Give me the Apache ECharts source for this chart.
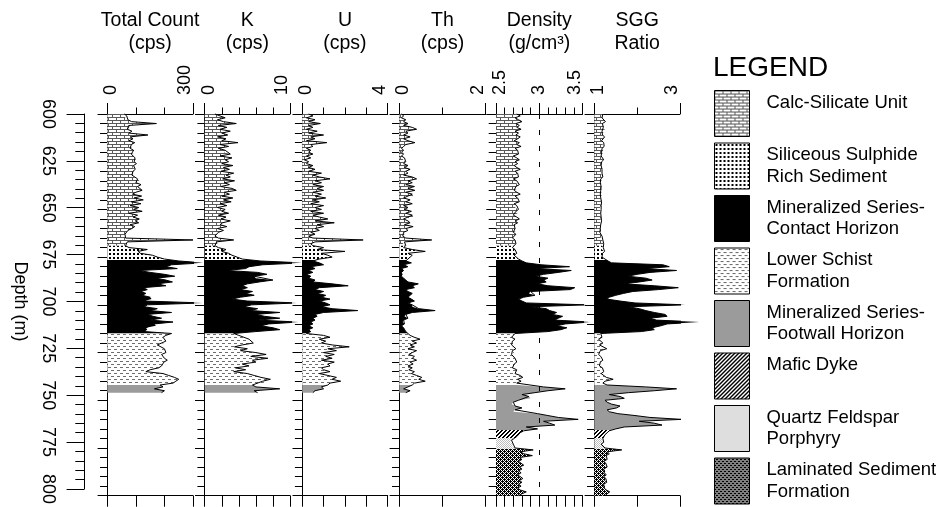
<!DOCTYPE html>
<html><head><meta charset="utf-8">
<script src="https://cdn.jsdelivr.net/npm/echarts@6/dist/echarts.min.js"></script>
<style>html,body{margin:0;padding:0;background:#fff}#c{width:944px;height:507px}</style>
</head><body><div id="c"></div>
<script>
// ---------------- DATA ----------------
const depthA = [
600,601,602,603,604,605,606,607,608,609,610,611,612,613,614,615,616,617,618,619,
620,621,622,623,624,625,626,627,628,629,630,631,632,633,634,635,636,637,638,639,
640,641,642,643,644,645,646,647,648,649,650,651,652,653,654,655,656,657,658,659,
660,661,662,663,664,665,666,667,668,669,670,671,672,673,674,675,676,677,678,679,
680,681,682,683,684,685,686,687,688,689,690,691,692,693,694,695,696,697,698,699,
700,701,702,703,704,705,706,707,708,709,710,711,712,713,714,715,716,717,718,719,
720,721,722,723,724,725,726,727,728,729,730,731,732,733,734,735,736,737,738,739,
740,741,742,743,744,745,746];
const depthB = [
600,601,602,603,604,605,606,607,608,609,610,611,612,613,614,615,616,617,618,619,
620,621,622,623,624,625,626,627,628,629,630,631,632,633,634,635,636,637,638,639,
640,641,642,643,644,645,646,647,648,649,650,651,652,653,654,655,656,657,658,659,
660,661,662,663,664,665,666,667,668,669,670,671,672,673,674,675,676,677,678,679,
680,681,682,683,684,685,686,687,688,689,690,691,692,693,694,695,696,697,698,699,
700,701,702,703,704,705,706,707,708,709,710,711,712,713,714,715,716,717,718,719,
720,721,722,723,724,725,726,727,728,729,730,731,732,733,734,735,736,737,738,739,
740,741,742,743,744,745,746,747,748,749,750,751,752,753,754,755,756,757,758,759,
760,761,762,763,764,765,766,767,768,769,770,771,772,773,774,775,776,777,778,779,
780,781,782,783,784,785,786,787,788,789,790,791,792,793,794,795,796,797,798,799,
800];
const totalCount = [
60,68,62,72,85,172,75,80,70,86, 76,142,80,90,76,96,84,90,80,92,
98,84,90,97,100,94,102,92,88,98, 90,96,86,92,106,112,100,118,106,114,
122,100,88,120,94,126,84,118,80,110, 92,122,75,106,90,112,98,110,80,96,
86,72,66,62,60,64,300,70,66,64, 76,140,108,116,158,176,200,250,335,225,
205,245,112,150,200,236,170,205,228,175, 205,125,140,118,135,122,150,155,130,335,
140,130,175,150,225,140,160,190,150,230, 165,170,135,140,130,225,205,195,190,205,
200,175,172,200,195,205,190,195,200,210, 198,205,190,180,150,135,195,215,235,250,
240,230,185,195,165,200,190];
const kCps = [
1.2,1.8,2.4,1.5,2.2,3.7,1.6,2.6,1.8,3.0, 2.0,2.7,1.5,2.5,2.0,3.9,1.8,2.8,1.6,2.4,
2.2,3.0,1.8,3.2,2.4,2.8,2.0,3.3,2.2,2.9, 1.9,3.4,2.5,3.0,2.1,3.5,2.3,2.9,1.9,3.2,
3.7,2.3,2.9,2.0,3.3,2.2,3.1,1.8,2.6,1.5, 2.4,2.0,2.8,1.6,2.5,1.9,3.0,2.1,1.8,2.6,
1.5,2.2,1.6,1.4,1.2,1.6,3.4,1.4,1.5,1.2, 1.6,2.5,2.0,2.8,3.2,3.8,4.4,6.5,11.4,6.8,
5.2,4.8,2.6,6.2,7.3,5.8,6.0,8.0,6.4,5.0, 4.4,5.0,4.2,5.6,4.8,5.8,4.2,3.2,5.0,10.8,
5.5,4.6,6.2,5.4,8.8,6.0,7.0,8.8,6.2,11.0, 7.5,6.6,8.0,8.8,6.0,3.4,4.0,4.6,5.2,5.0,
5.7,4.4,3.5,5.0,4.2,6.0,7.2,5.4,7.4,5.6, 6.0,4.4,5.2,3.6,4.8,3.4,5.0,5.8,6.6,7.7,
6.8,7.0,5.6,6.0,8.8,5.8,6.2];
const uCps = [
0.3,0.5,0.2,0.6,0.3,0.85,0.3,0.5,0.2,0.7, 0.3,1.0,0.4,0.6,0.2,1.15,0.4,0.5,0.2,0.4,
0.3,0.5,0.2,0.4,0.1,0.3,0.2,0.5,0.3,0.6, 0.3,0.9,0.5,0.8,1.3,0.6,0.9,0.5,1.0,0.7,
1.0,0.5,0.9,0.6,1.1,0.5,0.8,0.4,1.0,0.6, 0.9,0.4,1.0,0.5,0.8,1.2,0.6,1.5,0.7,1.0,
0.6,0.8,0.4,0.6,0.3,0.5,2.85,0.6,0.4,0.5, 1.0,0.7,2.0,0.9,1.2,1.4,0.8,0.5,0.8,1.0,
0.4,0.6,0.3,0.5,0.2,0.4,0.3,0.6,0.5,1.4, 2.15,0.8,0.6,1.0,0.7,1.1,0.9,1.3,0.8,1.1,
1.3,0.9,1.4,2.6,1.0,0.6,0.7,0.5,0.6,0.4, 0.5,0.3,0.5,0.3,0.4,0.2,1.0,1.3,0.8,1.1,
0.9,1.4,2.2,1.2,1.6,1.0,1.5,1.1,1.4,0.9, 1.5,1.2,1.3,0.9,1.0,1.3,0.8,1.2,1.6,1.4,
1.8,1.3,1.2,0.9,1.0,0.6,0.5];
const thCps = [
0.05,0.1,0.05,0.15,0.1,0.2,0.1,0.3,0.4,0.15, 0.2,0.1,0.25,0.1,0.2,0.36,0.15,0.1,0.05,0.1,
0.05,0.1,0.05,0.12,0.08,0.15,0.1,0.2,0.12,0.25, 0.15,0.2,0.1,0.3,0.4,0.2,0.3,0.15,0.35,0.2,
0.36,0.15,0.3,0.32,0.1,0.25,0.15,0.3,0.1,0.2, 0.12,0.28,0.15,0.3,0.32,0.1,0.2,0.25,0.12,0.32,
0.15,0.2,0.1,0.12,0.08,0.15,0.75,0.12,0.08,0.15, 0.1,0.3,0.6,0.2,0.3,0.25,0.2,0.15,0.28,0.1,
0.2,0.05,0.1,0.05,0.08,0.05,0.1,0.15,0.2,0.44, 0.3,0.35,0.15,0.2,0.3,0.25,0.2,0.28,0.35,0.2,
0.3,0.3,0.45,0.83,0.3,0.15,0.12,0.2,0.1,0.08, 0.12,0.05,0.1,0.12,0.15,0.2,0.25,0.35,0.48,0.3,
0.4,0.25,0.35,0.2,0.4,0.3,0.22,0.35,0.3,0.4, 0.25,0.32,0.2,0.3,0.22,0.35,0.28,0.4,0.52,0.45,
0.6,0.35,0.3,0.2,0.1,0.25,0.15];
const density = [
2.74,2.78,2.72,2.76,2.80,2.73,2.77,2.74,2.79,2.72, 2.76,2.73,2.78,2.75,2.71,2.77,2.74,2.79,2.72,2.75,
2.73,2.76,2.70,2.74,2.77,2.72,2.75,2.71,2.74,2.78, 2.72,2.75,2.73,2.76,2.70,2.74,2.72,2.77,2.73,2.75,
2.71,2.74,2.78,2.72,2.75,2.73,2.77,2.71,2.74,2.72, 2.76,2.73,2.75,2.70,2.74,2.77,2.72,2.75,2.71,2.73,
2.72,2.74,2.70,2.73,2.71,2.69,2.72,2.70,2.73,2.71, 2.69,2.72,2.70,2.74,2.71,2.73,2.76,2.80,2.85,3.02,
3.35,2.95,3.37,3.22,3.05,2.95,3.10,3.05,3.08,2.98, 3.10,3.41,3.36,2.90,2.88,2.95,2.82,2.76,2.80,2.85,
3.55,2.90,3.08,3.12,3.20,3.15,3.27,3.22,3.18,3.59, 3.30,3.20,3.32,3.25,3.10,2.72,2.70,2.68,2.72,2.69,
2.71,2.68,2.70,2.73,2.69,2.71,2.68,2.70,2.72,2.70, 2.74,2.71,2.73,2.69,2.74,2.76,2.72,2.78,2.81,2.75,
2.79,2.74,2.75,3.05,3.30,3.10,2.95,2.80,2.88,2.90, 2.76,2.70,2.68,2.72,2.80,2.72,2.70,2.98,3.10,3.22,
3.45,3.05,3.12,3.18,2.85,2.98,2.82,2.78,2.76,2.74, 2.71,2.68,2.66,2.70,2.68,2.72,2.93,2.78,2.82,2.92,
2.77,2.80,2.76,2.79,2.82,2.77,2.80,2.76,2.79,2.75, 2.78,2.81,2.77,2.80,2.76,2.79,2.75,2.78,2.85,2.80,
2.76];
const sggRatio = [
1.20,1.24,1.18,1.22,1.26,1.19,1.23,1.21,1.25,1.18, 1.22,1.19,1.24,1.20,1.17,1.22,1.19,1.23,1.18,1.21,
1.17,1.20,1.16,1.19,1.22,1.17,1.20,1.16,1.19,1.18, 1.15,1.18,1.16,1.20,1.15,1.17,1.14,1.18,1.16,1.19,
1.15,1.17,1.14,1.18,1.15,1.13,1.17,1.14,1.16,1.13, 1.16,1.13,1.15,1.12,1.16,1.14,1.17,1.13,1.15,1.12,
1.14,1.17,1.13,1.15,1.18,1.14,1.20,1.16,1.22,1.18, 1.21,1.17,1.24,1.19,1.22,1.18,1.25,1.32,1.40,2.60,
2.75,2.20,2.92,2.30,2.00,1.78,2.20,2.35,2.05,1.70, 2.40,2.96,2.50,1.90,1.68,1.50,1.35,1.30,1.60,1.95,
3.12,1.80,2.05,2.20,2.40,2.65,2.70,2.30,2.45,3.45, 2.70,2.55,2.35,2.40,2.10,1.15,1.12,1.18,1.10,1.14,
1.20,1.12,1.16,1.29,1.14,1.18,1.10,1.15,1.12,1.20, 1.14,1.17,1.12,1.19,1.15,1.22,1.16,1.20,1.28,1.44,
1.25,1.20,1.30,2.20,2.92,2.40,1.80,1.35,1.60,1.70, 1.25,1.30,1.40,1.60,1.52,1.30,1.35,1.55,1.95,2.30,
3.04,2.05,2.40,2.58,1.70,1.50,1.35,1.30,1.25,1.22, 1.20,1.18,1.22,1.16,1.19,1.25,1.64,1.30,1.35,1.28,
1.25,1.30,1.22,1.27,1.24,1.30,1.22,1.26,1.23,1.28, 1.22,1.27,1.24,1.29,1.22,1.26,1.23,1.28,1.36,1.30,
1.25];

const trackTitles = ['Total Count\n(cps)', 'K\n(cps)', 'U\n(cps)', 'Th\n(cps)', 'Density\n(g/cm³)', 'SGG\nRatio'];
const trackMin = [0, 0, 0, 0, 2.5, 1];
const trackMax = [300, 10, 4, 2, 3.5, 3];
const trackTickLabels = [[0, 300], [0, 10], [0, 4], [0, 2], [2.5, 3, 3.5], [1, 3]];
const trackMinorStep = [100, 2, 1, 1, 0.1, 1];
const depthTicks = [600, 625, 650, 675, 700, 725, 750, 775, 800];

const unitNames = ['Calc-Silicate Unit', 'Siliceous Sulphide Rich Sediment', 'Mineralized Series-Contact Horizon',
  'Lower Schist Formation', 'Mineralized Series-Footwall Horizon', 'Mafic Dyke', 'Quartz Feldspar Porphyry',
  'Laminated Sediment Formation'];
const unitLegendText = ['Calc-Silicate Unit\n ', 'Siliceous Sulphide\nRich Sediment', 'Mineralized Series-\nContact Horizon',
  'Lower Schist\nFormation', 'Mineralized Series-\nFootwall Horizon', 'Mafic Dyke\n ', 'Quartz Feldspar\nPorphyry',
  'Laminated Sediment\nFormation'];
const unitTop = [600, 669, 676.5, 715, 742, 765.6, 769.8, 775.5];
const unitBase = [669, 676.5, 715, 742, 765.6, 769.8, 775.5, 800];
const densityRefLine = 3;

// ---------------- LAYOUT / STYLE ----------------
const FONT = '"Liberation Sans", Arial, Helvetica, sans-serif';
const L = {
  top: 114, height: 381.7,
  trackLeft: [107.3, 204.7, 302.2, 399.3, 496, 594.3],
  trackWidth: [85.7, 85.3, 85.5, 86.4, 86.5, 85.7],
  depthAxisLeft: 84.3
};
const trackVals = [totalCount, kCps, uCps, thCps, density, sggRatio];
const trackDepth = [depthA, depthA, depthA, depthA, depthB, depthB];

function makePattern(w, h, color, cells) {
  const c = document.createElement('canvas');
  c.width = w; c.height = h;
  const ctx = c.getContext('2d');
  ctx.fillStyle = '#fff'; ctx.fillRect(0, 0, w, h);
  ctx.fillStyle = color;
  cells.forEach(r => ctx.fillRect(r[0], r[1], r[2] || 1, r[3] || 1));
  return { image: c, repeat: 'repeat' };
}
const unitFill = [
  makePattern(8, 6, '#5a5a5a', [[0,0,8,1],[0,3,8,1],[0,1,1,2],[4,4,1,2]]),
  makePattern(4, 4, '#000', [[1,1,2,2]]),
  '#000',
  makePattern(6, 6, '#6e6e6e', [[0,1,3,1],[3,4,3,1]]),
  '#9b9b9b',
  makePattern(4, 4, '#000', [[3,0],[0,0],[2,1],[3,1],[1,2],[2,2],[0,3],[1,3]]),
  makePattern(4, 4, '#bdbdbd', [[0,0],[2,0],[1,1],[3,1],[0,2],[2,2],[1,3],[3,3]]),
  makePattern(4, 4, '#000', [[0,0],[2,0],[1,1],[2,1],[3,1],[0,2],[2,2],[0,3],[1,3],[3,3]])
];

function valAt(depths, vals, d) {
  for (let i = 0; i < depths.length - 1; i++) {
    if (d >= depths[i] && d <= depths[i + 1]) {
      const t = (d - depths[i]) / (depths[i + 1] - depths[i]);
      return vals[i] + t * (vals[i + 1] - vals[i]);
    }
  }
  return vals[vals.length - 1];
}
function segment(depths, vals, a, b) {
  const lo = Math.max(a, depths[0]), hi = Math.min(b, depths[depths.length - 1]);
  if (hi <= lo) return [];
  const pts = [[valAt(depths, vals, lo), lo]];
  for (let i = 0; i < depths.length; i++) if (depths[i] > lo && depths[i] < hi) pts.push([vals[i], depths[i]]);
  pts.push([valAt(depths, vals, hi), hi]);
  return pts;
}

const labelTxt = { fontSize: 18, color: '#000', fontFamily: FONT };
const grid = [{ left: L.depthAxisLeft, top: L.top, width: 10, height: L.height }];
const xAxis = [{ gridIndex: 0, type: 'value', show: false, min: 0, max: 1 }];
const yAxis = [{
  gridIndex: 0, type: 'value', min: 600, max: 800, inverse: true, interval: 25, position: 'left',
  axisLine: { show: true, onZero: false, lineStyle: { color: '#000', width: 1 } },
  axisTick: { show: true, length: 17.7, lineStyle: { color: '#000', width: 1 } },
  minorTick: { show: true, splitNumber: 5, length: 9, lineStyle: { color: '#000', width: 1 } },
  axisLabel: { show: true, rotate: -90, margin: 27, fontSize: 18, color: '#000', fontFamily: FONT, customValues: depthTicks },
  splitLine: { show: false }, minorSplitLine: { show: false },
  name: 'Depth (m)', nameLocation: 'middle', nameRotate: -90, nameGap: 55,
  nameTextStyle: { fontSize: 18, color: '#000', fontFamily: FONT }
}];
const series = [];

for (let t = 0; t < 6; t++) {
  const gMain = grid.length;
  grid.push({ left: L.trackLeft[t], top: L.top, width: L.trackWidth[t], height: L.height });
  grid.push({ left: L.trackLeft[t], top: L.top, width: L.trackWidth[t], height: L.height });
  const xMain = xAxis.length;
  const mn = trackMin[t], mx = trackMax[t];
  xAxis.push({
    gridIndex: gMain, type: 'value', position: 'top', min: mn, max: mx, interval: trackMinorStep[t],
    axisLine: { show: true, onZero: false, lineStyle: { color: '#000', width: 1 } },
    axisTick: { show: true, length: 11, customValues: trackTickLabels[t], lineStyle: { color: '#000', width: 1 } },
    axisLabel: { show: true, customValues: trackTickLabels[t], rotate: -90, margin: 19, fontSize: 18, color: '#000',
      fontFamily: FONT, verticalAlignMinLabel: 'top', verticalAlignMaxLabel: 'bottom',
      formatter: v => (v === mn ? '{lo|' + v + '}' : v === mx ? '{hi|' + v + '}' : '{md|' + v + '}'),
      rich: {
        lo: Object.assign({ lineHeight: 8 }, labelTxt),
        hi: Object.assign({ lineHeight: 15 }, labelTxt),
        md: Object.assign({}, labelTxt)
      } },
    splitLine: { show: false },
    name: trackTitles[t], nameLocation: 'middle', nameGap: 59,
    nameTextStyle: { fontSize: 19.5, lineHeight: 23, color: '#000', fontFamily: FONT }
  });
  xAxis.push({
    gridIndex: gMain, type: 'value', position: 'bottom', min: mn, max: mx, interval: trackMinorStep[t],
    axisLine: { show: true, onZero: false, lineStyle: { color: '#000', width: 1 } },
    axisTick: { show: true, length: 11, lineStyle: { color: '#000', width: 1 } },
    axisLabel: { show: false }, splitLine: { show: false }
  });
  xAxis.push({
    gridIndex: gMain + 1, type: 'value', position: 'top', min: mn, max: mx, interval: trackMinorStep[t],
    axisLine: { show: false, onZero: false },
    axisTick: { show: true, length: 6.5, lineStyle: { color: '#000', width: 1 } },
    axisLabel: { show: false }, splitLine: { show: false }
  });
  const yMain = yAxis.length;
  yAxis.push({
    gridIndex: gMain, type: 'value', min: 600, max: 800, inverse: true, interval: 25, position: 'left',
    axisLine: { show: true, onZero: false, lineStyle: { color: '#000', width: 1 } },
    axisTick: { show: true, length: 9.7, lineStyle: { color: '#000', width: 1 } },
    minorTick: { show: true, splitNumber: 5, length: 7.3, lineStyle: { color: '#000', width: 1 } },
    axisLabel: { show: false }, splitLine: { show: false }
  });
  yAxis.push({ gridIndex: gMain + 1, type: 'value', min: 600, max: 800, inverse: true, show: false });

  if (t === 4) {
    series.push({
      type: 'line', xAxisIndex: xMain, yAxisIndex: yMain, data: [], z: 1, silent: true,
      markLine: { silent: true, symbol: 'none', label: { show: false }, animation: false,
        lineStyle: { type: [5, 11], color: '#000', width: 1 }, data: [{ xAxis: densityRefLine }] }
    });
  }
  for (let u = 0; u < unitNames.length; u++) {
    const seg = segment(trackDepth[t], trackVals[t], unitTop[u], unitBase[u]);
    if (!seg.length) continue;
    const fill = unitFill[u];
    series.push({
      type: 'custom', name: unitNames[u], xAxisIndex: xMain, yAxisIndex: yMain, z: 2, silent: true,
      clip: false, encode: { x: 0, y: 1 }, data: seg, itemStyle: { color: fill },
      renderItem: (params, api) => {
        if (params.dataIndex !== 0) return null;
        const pts = [api.coord([mn, seg[0][1]])];
        seg.forEach(p => pts.push(api.coord(p)));
        pts.push(api.coord([mn, seg[seg.length - 1][1]]));
        return { type: 'polygon', shape: { points: pts }, style: { fill: fill, stroke: null } };
      }
    });
  }
  series.push({
    type: 'line', name: 'curve' + t, xAxisIndex: xMain, yAxisIndex: yMain, z: 3, silent: true, clip: false,
    symbol: 'none', showSymbol: false, data: trackDepth[t].map((d, i) => [trackVals[t][i], d]),
    lineStyle: { color: '#000', width: 1 }
  });
}

const chart = echarts.init(document.getElementById('c'), null, { renderer: 'canvas' });
chart.setOption({
  animation: false,
  backgroundColor: '#fff',
  title: { text: 'LEGEND', left: 713, top: 54, padding: 0,
    textStyle: { fontSize: 28, fontWeight: 'normal', color: '#000', fontFamily: FONT } },
  legend: {
    orient: 'vertical', left: 714, top: 90, padding: 0, itemWidth: 35, itemHeight: 46, itemGap: 5.5,
    selectedMode: false,
    data: unitNames.map((n, i) => ({ name: n, icon: 'rect',
      itemStyle: { color: unitFill[i], borderColor: '#000', borderWidth: 1 } })),
    formatter: n => unitLegendText[unitNames.indexOf(n)],
    textStyle: { fontSize: 18.5, lineHeight: 21.7, color: '#000', fontFamily: FONT, padding: [0, 0, 0, 12] }
  },
  grid, xAxis, yAxis, series
});
</script>
</body></html>
